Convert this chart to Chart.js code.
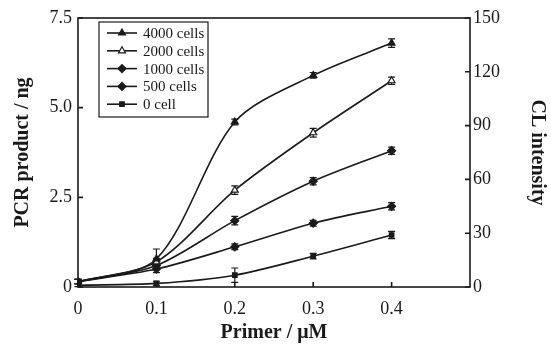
<!DOCTYPE html>
<html>
<head>
<meta charset="utf-8">
<script src="https://cdn.jsdelivr.net/npm/chart.js@4"></script>
<style>
  body { margin: 0; background: #fff; }
  #wrap { width: 551px; height: 345px; }
</style>
</head>
<body>
<div id="wrap"><canvas id="pcrChart" width="551" height="345"></canvas></div>
<script>
// primer concentration (uM)
const primer = [0, 0.1, 0.2, 0.3, 0.4];

// PCR product (ng) for each cell count
const cells4000 = [0.15, 0.78, 4.6, 5.9, 6.8];
const cells2000 = [0.15, 0.7, 2.7, 4.3, 5.75];
const cells1000 = [0.15, 0.6, 1.85, 2.95, 3.8];
const cells500 = [0.15, 0.5, 1.12, 1.78, 2.25];
const cells0 = [0.05, 0.1, 0.33, 0.86, 1.45];

// error bar half-widths (ng)
const err4000 = [0.06, 0.28, 0.08, 0.08, 0.12];
const err2000 = [0.06, 0.1, 0.12, 0.12, 0.1];
const err1000 = [0.06, 0.1, 0.12, 0.1, 0.1];
const err500 = [0.06, 0.1, 0.08, 0.08, 0.1];
const err0 = [0.04, 0.06, 0.2, 0.08, 0.1];

const seriesLabels = ['4000 cells', '2000 cells', '1000 cells', '500 cells', '0 cell'];
const leftTicks = [0, 2.5, 5.0, 7.5];
const rightTicks = [0, 30, 60, 90, 120, 150];

const ink = '#1a1a1a';
const serif = "'Liberation Serif', 'DejaVu Serif', serif";

function makeSet(label, vals, errs, style, fill) {
    return {
        label: label,
        data: primer.map((x, i) => ({ x: x, y: vals[i] })),
        errors: errs,
        borderColor: ink,
        borderWidth: 1.6,
        backgroundColor: fill,
        pointBorderColor: ink,
        pointBackgroundColor: fill,
        pointBorderWidth: 1.2,
        pointStyle: style,
        pointRadius: style === 'rect' ? 3.2 : 4,
        tension: 0.3,
        yAxisID: 'y'
    };
}

// frame, inward tick marks, error bars and the boxed legend
const decorations = {
    id: 'decorations',
    beforeDatasetsDraw(chart) {
        const ctx = chart.ctx;
        const yScale = chart.scales.y;
        ctx.save();
        ctx.strokeStyle = ink;
        ctx.lineWidth = 1.2;
        chart.data.datasets.forEach((ds, di) => {
            const meta = chart.getDatasetMeta(di);
            meta.data.forEach((pt, i) => {
                const e = ds.errors[i];
                const v = ds.data[i].y;
                const top = yScale.getPixelForValue(v + e);
                const bot = yScale.getPixelForValue(Math.max(v - e, 0));
                ctx.beginPath();
                ctx.moveTo(pt.x, top); ctx.lineTo(pt.x, bot);
                ctx.moveTo(pt.x - 3.5, top); ctx.lineTo(pt.x + 3.5, top);
                ctx.moveTo(pt.x - 3.5, bot); ctx.lineTo(pt.x + 3.5, bot);
                ctx.stroke();
            });
        });
        ctx.restore();
    },
    afterDraw(chart) {
        const ctx = chart.ctx;
        const a = chart.chartArea;
        const s = chart.scales;
        ctx.save();
        ctx.strokeStyle = ink;
        ctx.lineWidth = 1.6;
        ctx.strokeRect(a.left, a.top, a.right - a.left, a.bottom - a.top);
        ctx.beginPath();
        s.y.ticks.forEach(t => {
            const py = s.y.getPixelForValue(t.value);
            ctx.moveTo(a.left, py); ctx.lineTo(a.left + 5, py);
        });
        s.y2.ticks.forEach(t => {
            const py = s.y2.getPixelForValue(t.value);
            ctx.moveTo(a.right, py); ctx.lineTo(a.right - 5, py);
        });
        s.x.ticks.forEach(t => {
            const px = s.x.getPixelForValue(t.value);
            ctx.moveTo(px, a.bottom); ctx.lineTo(px, a.bottom - 5);
        });
        ctx.stroke();

        const bx = 99, by = 22, bw = 109, bh = 95;
        ctx.lineWidth = 1.2;
        ctx.strokeRect(bx, by, bw, bh);
        ctx.font = '15px ' + serif;
        ctx.textBaseline = 'middle';
        chart.data.datasets.forEach((ds, i) => {
            const cy = by + 11 + i * 17.8;
            ctx.strokeStyle = ink;
            ctx.beginPath();
            ctx.lineWidth = 1.6;
            ctx.moveTo(bx + 8, cy); ctx.lineTo(bx + 38, cy);
            ctx.stroke();
            ctx.lineWidth = 1.2;
            ctx.fillStyle = ds.pointBackgroundColor;
            Chart.helpers.drawPoint(ctx, {
                pointStyle: ds.pointStyle, radius: ds.pointRadius, rotation: 0, borderWidth: 1.2
            }, bx + 23, cy);
            ctx.fillStyle = ink;
            ctx.fillText(ds.label, bx + 44, cy + 1);
        });
        ctx.restore();
    }
};

const ctx = document.getElementById('pcrChart').getContext('2d');
new Chart(ctx, {
    type: 'line',
    data: {
        datasets: [
            makeSet(seriesLabels[0], cells4000, err4000, 'triangle', ink),
            makeSet(seriesLabels[1], cells2000, err2000, 'triangle', '#ffffff'),
            makeSet(seriesLabels[2], cells1000, err1000, 'rectRot', ink),
            makeSet(seriesLabels[3], cells500, err500, 'rectRot', ink),
            makeSet(seriesLabels[4], cells0, err0, 'rect', ink)
        ]
    },
    options: {
        responsive: false,
        animation: false,
        layout: { padding: { top: 18, left: 0, right: 0, bottom: 0 } },
        plugins: { legend: { display: false }, tooltip: { enabled: false } },
        scales: {
            x: {
                type: 'linear',
                min: 0,
                max: 0.5,
                grid: { display: false, drawTicks: false },
                border: { display: false },
                afterBuildTicks: scale => {
                    scale.ticks = primer.map(v => ({ value: v }));
                },
                afterFit: scale => { scale.height = 58; },
                ticks: {
                    color: ink,
                    font: { family: serif, size: 18 },
                    padding: 11,
                    callback: v => (v === 0 ? '0' : v.toFixed(1))
                },
                title: {
                    display: true,
                    text: 'Primer / μM',
                    color: ink,
                    font: { family: serif, size: 20, weight: 'bold' },
                    padding: { top: 0, bottom: 0 }
                }
            },
            y: {
                position: 'left',
                min: 0,
                max: 7.5,
                grid: { display: false, drawTicks: false },
                border: { display: false },
                afterBuildTicks: scale => {
                    scale.ticks = leftTicks.map(v => ({ value: v }));
                },
                afterFit: scale => { scale.width = 78; },
                ticks: {
                    color: ink,
                    font: { family: serif, size: 18 },
                    padding: 6,
                    callback: v => (v === 0 ? '0' : v.toFixed(1))
                },
                title: {
                    display: true,
                    text: 'PCR product / ng',
                    color: ink,
                    font: { family: serif, size: 20, weight: 'bold' },
                    padding: { top: 11, bottom: 0 }
                }
            },
            y2: {
                position: 'right',
                min: 0,
                max: 150,
                grid: { display: false, drawTicks: false },
                border: { display: false },
                afterBuildTicks: scale => {
                    scale.ticks = rightTicks.map(v => ({ value: v }));
                },
                afterFit: scale => { scale.width = 81; },
                ticks: {
                    color: ink,
                    font: { family: serif, size: 18 },
                    padding: 3
                },
                title: {
                    display: true,
                    text: 'CL intensity',
                    color: ink,
                    font: { family: serif, size: 20, weight: 'bold' },
                    padding: { top: 2, bottom: 0 }
                }
            }
        }
    },
    plugins: [decorations]
});
</script>
</body>
</html>
